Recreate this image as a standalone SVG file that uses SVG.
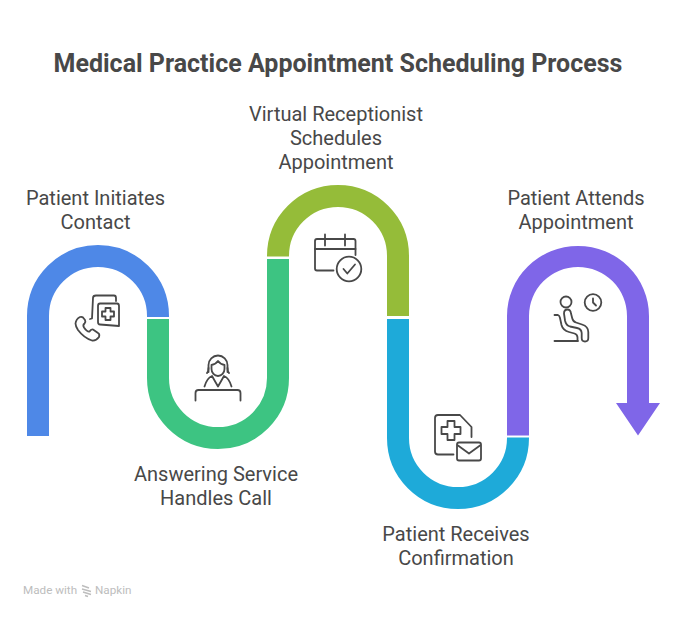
<svg xmlns="http://www.w3.org/2000/svg" width="687" height="618" viewBox="0 0 687 618">
<style>
text{font-family:Roboto,"Liberation Sans",sans-serif;fill:#484848}
.t{font-size:25px;font-weight:700;text-anchor:middle}
.l{font-size:20px;text-anchor:middle}
.s{fill:none;stroke-width:22}
.i{fill:none;stroke:#484848;stroke-width:1.8;stroke-linecap:round;stroke-linejoin:round}
.w{font-size:11.700px;fill:#bdbdbd}
</style>
<rect width="687" height="618" fill="#fff"/>
<text class="t" x="338" y="72">Medical Practice Appointment Scheduling Process</text>
<g id="connectors">
<path class="s" stroke="#4e88e7" d="M38 436V316A60 60 0 0 1 158 316V317"/>
<path class="s" stroke="#3dc482" d="M158 319V378A60 60 0 0 0 278 378V259"/>
<path class="s" stroke="#95bc39" d="M278 256.500V256A60 60 0 0 1 398 256V316"/>
<path class="s" stroke="#1eaad9" d="M398 319V438A60 60 0 0 0 518 438V437.500"/>
<path fill="#7f66e8" d="M507 435.500V316A71 70 0 0 1 649 316V403H660L638 435.500L616 403H627V316A49 49 0 0 0 529 316V435.500Z"/>
</g>
<g id="node1">
<text class="l" x="95.500" y="205">Patient Initiates</text><text class="l" x="95.500" y="229">Contact</text>
<path class="i" d="M90 319L92 318.500L93 298Q93 295.500 96 295.500H114Q116 295.500 116 298V301"/>
<path class="i" d="M100 303.500H117Q119 303.500 119 306V326L100 324.500Q98 324.500 98 322V306Q98 303.500 100 303.500Z"/>
<path class="i" d="M105.500 308H110.500V311.500H114V316.500H110.500V320H105.500V316.500H102V311.500H105.500Z"/>
<path class="i" d="M80 317Q76 319 75.500 323.500Q75.500 326 78 330Q84 338 92 340.500Q96 341 99 337Q100 334 98 333L93 329.500Q91 329 89.500 331.500Q87 332 84 327.500Q82.500 325 84.500 323.500Q86 322 85 320L83 317.500Q82 316.500 80 317Z"/>
</g>
<g id="node2">
<text class="l" x="216" y="481">Answering Service</text><text class="l" x="216" y="505">Handles Call</text>
<path class="i" d="M208.500 372V365A9.500 9.500 0 0 1 227.500 365V372"/>
<path class="i" d="M207 373Q208.500 371.500 208.500 368M229 373Q227.500 371.500 227.500 368"/>
<path class="i" d="M211.500 365Q216 364 218 361Q220 364 224.500 365V369A6.500 7 0 0 1 211.500 369Z"/>
<path class="i" d="M204.500 386.500Q207 378 212 376L218 386.500L224 376Q229 378 231.500 386.500"/>
<path class="i" d="M195.500 400.500V393Q195.500 390 198.500 390H237.500Q240.500 390 240.500 393V400.500"/>
</g>
<g id="node3">
<text class="l" x="336" y="121">Virtual Receptionist</text><text class="l" x="336" y="145">Schedules</text><text class="l" x="336" y="169">Appointment</text>
<path class="i" d="M333.500 270.500H317Q315 270.500 315 268.500V241Q315 239 317 239H353.500Q355.500 239 355.500 241V255"/>
<path class="i" d="M315 249H355.500M325 234.500V245.500M345 234.500V245.500"/>
<circle class="i" cx="349" cy="269" r="12.300"/>
<path class="i" d="M343.500 269L347.300 273.500L355 264.500"/>
</g>
<g id="node4">
<text class="l" x="456" y="541">Patient Receives</text><text class="l" x="456" y="565">Confirmation</text>
<path class="i" d="M453.500 454.500H438Q435 454.500 435 451.500V418Q435 415 438 415H460L471.500 427V437"/>
<path class="i" d="M447.500 421H454.500V427H460.500V434H454.500V440H447.500V434H441.500V427H447.500Z"/>
<rect class="i" x="457" y="442.500" width="24" height="18" rx="2"/>
<path class="i" d="M458 445.500L469 453.500L480 445.500"/>
</g>
<g id="node5">
<text class="l" x="576" y="205">Patient Attends</text><text class="l" x="576" y="229">Appointment</text>
<circle class="i" cx="566" cy="302" r="5.500"/>
<circle class="i" cx="593" cy="302.500" r="8.300"/>
<path class="i" d="M593 298.500V302.500L596 305.500"/>
<path class="i" d="M554.500 341H578"/>
<path class="i" d="M554.500 315H558Q559.500 315.500 560 318L561.500 325Q563 330.500 569 332L574.500 333.500Q577.500 334.500 577.500 337.500V340"/>
<path class="i" d="M564 313.500Q564 309.500 567.500 309.500Q570.500 309.500 571 313.500L572.300 318.500Q573 321.500 576 322.500L582 324.500Q588.300 326.500 588.300 332V338Q588.300 341.500 585 341.500Q581.700 341.500 581.700 338V333Q581.500 329 577 328L570 326.500Q566 325.500 565 320.500Z"/>
</g>
<g id="watermark">
<text class="w" x="23" y="594">Made with</text>
<path d="M82 585.500L89 588M82 589L91 591.500M83 592L91 594.500M85 595.500L88 596.500" stroke="#bdbdbd" stroke-width="1.400" fill="none"/>
<text class="w" x="95" y="594">Napkin</text>
</g>
</svg>
